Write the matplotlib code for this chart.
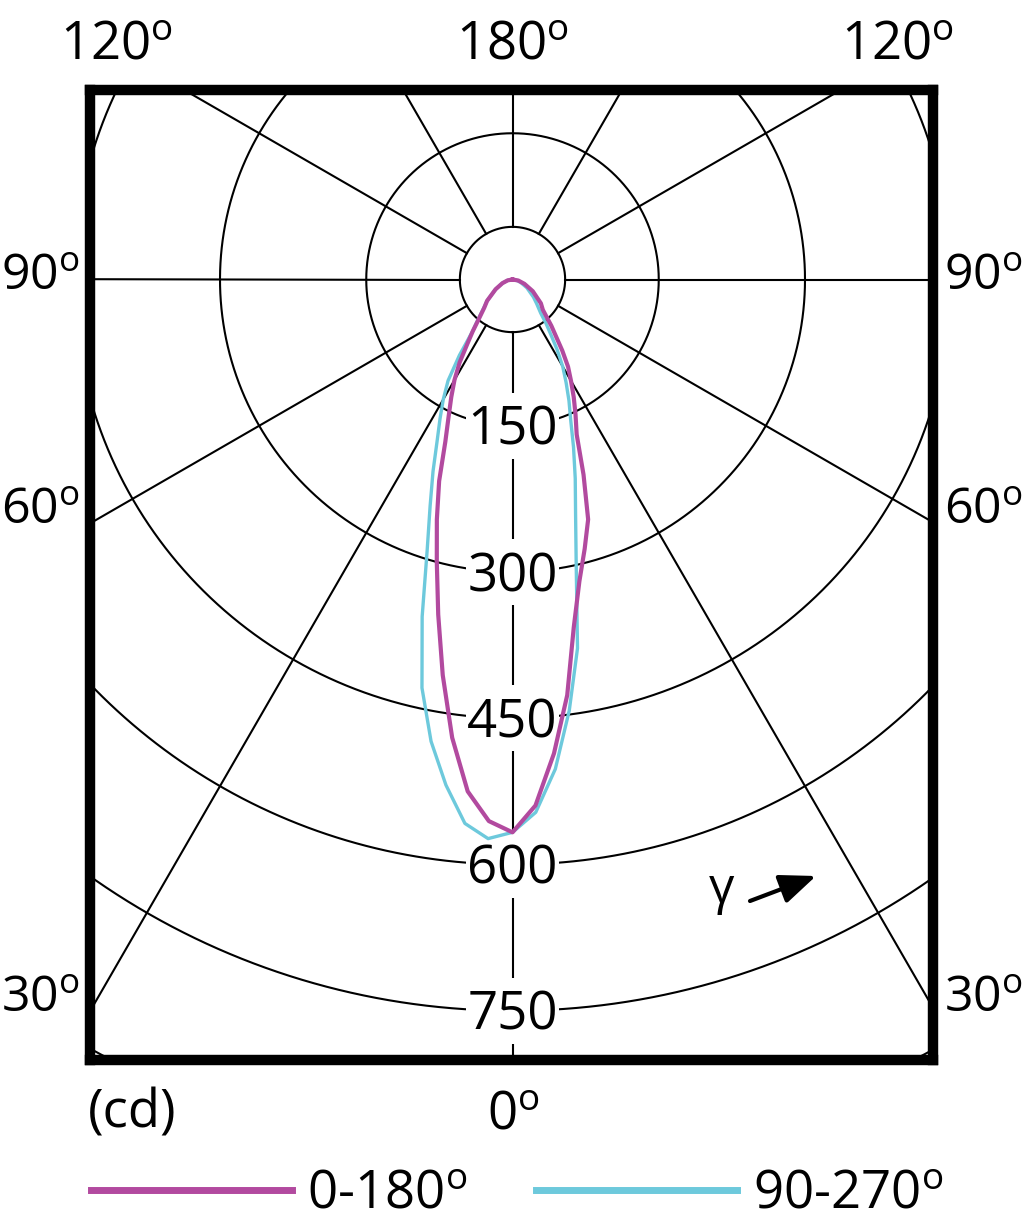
import numpy as np
import matplotlib
matplotlib.use("Agg")
import matplotlib.pyplot as plt
from matplotlib.lines import Line2D
from matplotlib.patches import Rectangle

plt.rcParams['font.family'] = ['Open Sans', 'DejaVu Sans']
plt.rcParams['mathtext.fontset'] = 'custom'
plt.rcParams['mathtext.rm'] = 'Open Sans'
plt.rcParams['mathtext.it'] = 'Open Sans:italic'
plt.rcParams['mathtext.bf'] = 'Open Sans:bold'

# ---------------- data (cd) ----------------
gamma = [0, 2.5, 5, 7.5, 10, 12.5, 15, 17.5, 20, 22.5, 25, 27.5, 30, 32.5,
         35, 37.5, 40, 45, 50, 60, 70, 80, 90]
I_c0 = [567, 540, 488, 430, 362, 317, 286, 258, 213, 172, 153, 136, 120, 106,
        89, 73, 62, 44, 38, 24, 13, 6, 0]
I_c180 = [567, 556, 527, 474, 412, 352, 300, 258, 220, 180, 155, 136, 119, 101,
          81, 67, 55, 41, 34, 20, 11, 5, 0]
I_c90 = [567, 547, 504, 446, 384, 302, 250, 214, 183, 156, 137, 119, 103, 85,
         68, 56, 45, 35, 28, 17, 9, 4, 0]
I_c270 = [567, 574, 560, 523, 481, 429, 358, 291, 247, 213, 183, 161, 142, 123,
          95, 68, 57, 42, 34, 20, 11, 5, 0]

ring_values = [150, 300, 450, 600, 750, 900, 1050]
ring_labels = ["150", "300", "450", "600", "750"]
spoke_angles = list(range(0, 360, 30))
series_names = ["0-180", "90-270"]
top_labels = ["120", "180", "120"]
side_labels = ["90", "60", "30"]
bottom_label = "0"
unit_label = "(cd)"

MAG = "#B24A9F"
CYA = "#6DC9DC"
FS = 38

W, H = 1024, 1221
fig = plt.figure(figsize=(W / 100, H / 100), dpi=100)

px_per_cd = 0.975
cx, cy = 512.5, 279.5
left, right, top, bottom = 90, 933, 90, 1060
ax = fig.add_axes([left / W, 1 - bottom / H, (right - left) / W, (bottom - top) / H])
ax.set_xlim((left - cx) / px_per_cd, (right - cx) / px_per_cd)
ax.set_ylim(-(bottom - cy) / px_per_cd, (cy - top) / px_per_cd)
ax.set_xticks([])
ax.set_yticks([])
for s in ax.spines.values():
    s.set_linewidth(7.5)
    s.set_color("black")

def pol(g_deg, r):
    t = np.radians(np.asarray(g_deg, dtype=float))
    r = np.asarray(r, dtype=float)
    return r * np.sin(t), -r * np.cos(t)

def degl(s):
    # last character carries the superscript "o" (degree mark as in the original)
    return s[:-1] + r"$\mathrm{" + s[-1] + r"}^{\mathrm{o}}$"

# grid rings
th = np.linspace(0, 360, 1441)
r0 = 54
x, y = pol(th, np.full_like(th, r0))
ax.plot(x, y, color="black", lw=1.5, zorder=1)
for R in ring_values:
    x, y = pol(th, np.full_like(th, R))
    ax.plot(x, y, color="black", lw=1.5, zorder=1)
# spokes
for a in spoke_angles:
    x, y = pol([a, a], [r0, 2000])
    ax.plot(x, y, color="black", lw=1.5, zorder=1)

# ring labels with white knock-out
hw = 46.5 / px_per_cd
hh = 33.0 / px_per_cd
dig = 38.0 / px_per_cd
for R, lab in zip(ring_values, ring_labels):
    ax.add_patch(Rectangle((-hw, -R - hh), 2 * hw, 2 * hh, facecolor="white",
                           edgecolor="none", zorder=2))
    ax.text(0, -R - dig / 2, lab, ha="center", va="baseline", fontsize=FS, zorder=3)

# curves
def full_curve(I_left, I_right):
    g = [-v for v in gamma[::-1]] + gamma[1:]
    I = list(I_left[::-1]) + list(I_right[1:])
    return pol(g, I)

xc, yc = full_curve(I_c270, I_c90)
ax.plot(xc, yc, color=CYA, lw=2.4, zorder=4, solid_joinstyle="round")
xm, ym = full_curve(I_c180, I_c0)
ax.plot(xm, ym, color=MAG, lw=3.0, zorder=5, solid_joinstyle="round")

# outside labels (pixel positions, baseline)
def ftxt(xp, yp, s, ha="center", fs=FS):
    fig.text(xp / W, 1 - yp / H, s, ha=ha, va="baseline", fontsize=fs)

ftxt(117, 59, degl(top_labels[0]))
ftxt(513, 59, degl(top_labels[1]))
ftxt(898, 59, degl(top_labels[2]))
for lab, yb in zip(side_labels, [290, 524, 1012]):
    ftxt(1, yb, degl(lab), ha="left", fs=36)
    ftxt(1023, yb, degl(lab), ha="right", fs=36)
ftxt(513, 1129, degl(bottom_label))
ftxt(88, 1127, unit_label, ha="left")

# gamma arrow
ftxt(722, 903, "γ", fs=36)
def fp(xp, yp):
    return (xp / W, 1 - yp / H)
ax.annotate("", xy=fp(816, 876), xytext=fp(750, 901), xycoords="figure fraction",
            textcoords="figure fraction",
            arrowprops=dict(arrowstyle="-|>,head_length=2.2,head_width=0.9",
                            lw=3, color="black", mutation_scale=10,
                            shrinkA=0, shrinkB=0))

# legend
handles = [Line2D([], [], color=MAG, lw=5), Line2D([], [], color=CYA, lw=5)]
labels = [degl(n) for n in series_names]
fig.legend(handles, labels, ncol=2, loc="center left",
           bbox_to_anchor=(91 / W, 1 - 1195 / H), frameon=False, fontsize=FS,
           handlelength=3.8, handletextpad=0.3, columnspacing=1.3,
           borderpad=0, borderaxespad=0)

fig.savefig("out.png", dpi=100)
